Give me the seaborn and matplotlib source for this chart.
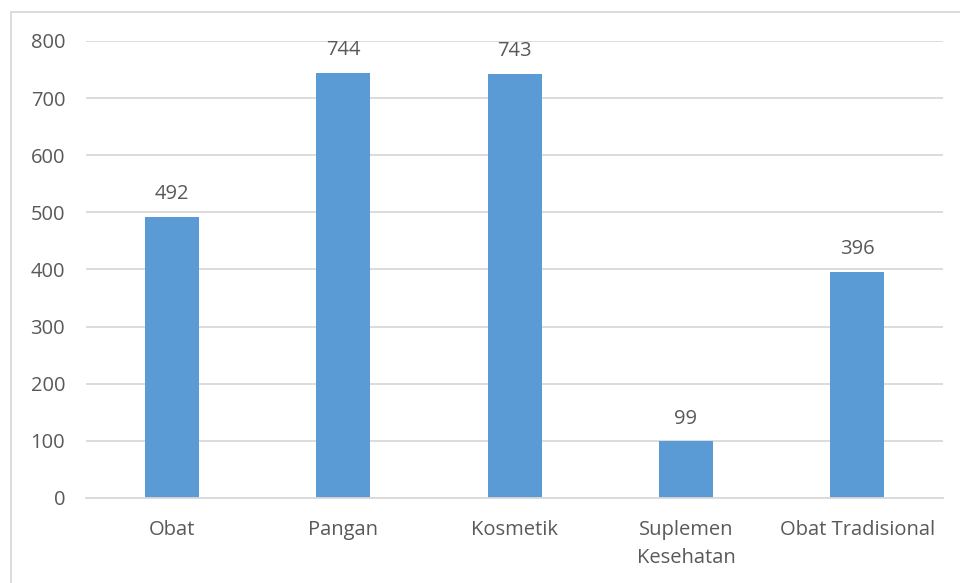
import numpy as np
import pandas as pd
import matplotlib
matplotlib.use("Agg")
import matplotlib.pyplot as plt
import seaborn as sns
from matplotlib.patches import Rectangle

categories = ["Obat", "Pangan", "Kosmetik", "Suplemen\nKesehatan", "Obat Tradisional"]
values = [492, 744, 743, 99, 396]
yticks = [0, 100, 200, 300, 400, 500, 600, 700, 800]

df = pd.DataFrame({"kategori": categories, "jumlah": values})

sns.set_style("white")
plt.rcParams["font.family"] = ["Open Sans", "DejaVu Sans"]

text_color = "#595959"
grid_color = "#d9d9d9"
bar_color = "#5b9bd5"
fs = 14.5

fig = plt.figure(figsize=(9.6, 5.83), dpi=100)
ax = fig.add_axes([0.0896, 0.146, 0.8927, 0.7837])

sns.barplot(data=df, x="kategori", y="jumlah", color=bar_color, width=0.315,
            saturation=1, linewidth=0, ax=ax)

ax.set_ylim(0, 800)
ax.set_xlim(-0.5, len(categories) - 0.5)
ax.set_yticks(yticks)
ax.yaxis.grid(True, color=grid_color, linewidth=1.3)
ax.set_axisbelow(True)
for s in ["top", "right", "left"]:
    ax.spines[s].set_visible(False)
ax.spines["bottom"].set_color(grid_color)
ax.spines["bottom"].set_linewidth(1.3)

ax.set_xlabel("")
ax.set_ylabel("")
ax.tick_params(axis="y", length=0, pad=15, labelsize=fs, labelcolor=text_color)
ax.tick_params(axis="x", which="major", length=0, pad=16, labelsize=fs, labelcolor=text_color)
for lbl in ax.get_xticklabels():
    lbl.set_linespacing(1.5)
ax.set_xticks(np.arange(-0.5, len(categories)), minor=True)
ax.tick_params(axis="x", which="minor", length=7, width=1.3, color=grid_color)

for i, v in enumerate(values):
    ax.annotate(str(v), (i, v), xytext=(0, 9), textcoords="offset points",
                ha="center", va="bottom", fontsize=fs, color=text_color)

fig.patches.append(Rectangle((10.5 / 960, -0.05), 1.2, (583 - 12) / 583 + 0.05,
                             transform=fig.transFigure, fill=False,
                             edgecolor=grid_color, linewidth=1.3))

fig.savefig("out.png", dpi=100)
